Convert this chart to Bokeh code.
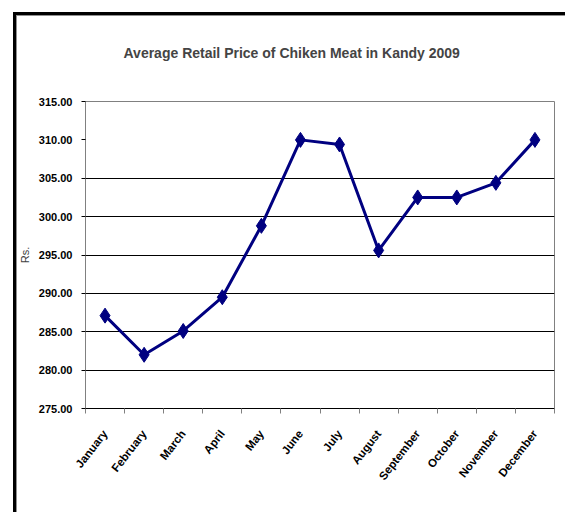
from bokeh.plotting import figure
from bokeh.models import Range1d, FixedTicker, Title, LinearAxis
from bokeh.embed import file_html
from bokeh.resources import INLINE

# Monthly average retail price (Rs.) of chicken meat in Kandy, 2009
months = ["January", "February", "March", "April", "May", "June",
          "July", "August", "September", "October", "November", "December"]
prices = [287.1, 282.0, 285.1, 289.5, 298.8, 310.0,
          309.4, 295.6, 302.5, 302.5, 304.4, 310.0]
y_ticks = [275, 280, 285, 290, 295, 300, 305, 310, 315]
title_text = "Average Retail Price of Chiken Meat in Kandy 2009"

xs = [i + 0.5 for i in range(len(months))]

p = figure(width=565, height=512, output_backend="svg", toolbar_location=None,
           x_range=Range1d(0, len(months)), y_range=Range1d(275, 315),
           min_border_left=85, min_border_right=11,
           min_border_top=101, min_border_bottom=104)
p.background_fill_color = "white"
p.border_fill_color = None
p.outline_line_color = "#808080"
p.outline_line_width = 1

# double frame along the left and top edges of the page
p.styles = {
    "background-color": "white",
    "box-shadow": "inset 13px 12px 0 0 white, inset 16px 15px 0 0 black, "
                  "inset 17px 16px 0 0 #909090",
}

# x axis: labels at category centres, tick marks at category boundaries
xa = p.below[0]
xa.ticker = FixedTicker(ticks=xs, minor_ticks=list(range(len(months) + 1)))
xa.major_label_overrides = {x: m for x, m in zip(xs, months)}
xa.major_tick_in = 0
xa.major_tick_out = 0
xa.minor_tick_in = 0
xa.minor_tick_out = 5
xa.minor_tick_line_color = "#808080"
xa.axis_line_color = "black"
xa.major_label_orientation = 0.91
xa.major_label_text_font = "Liberation Sans"
xa.major_label_text_font_size = "11.5px"
xa.major_label_text_font_style = "bold"
xa.major_label_text_color = "black"
xa.major_label_standoff = 18

# unlabelled, lineless top axis used only as a gap between plot area and title
gap = LinearAxis(ticker=FixedTicker(ticks=[xs[0]], minor_ticks=[]),
                 major_label_overrides={xs[0]: ""},
                 axis_line_color=None, major_tick_in=0, major_tick_out=36,
                 major_label_standoff=0, minor_tick_line_color=None,
                 major_tick_line_color=None)
p.add_layout(gap, "above")
p.add_layout(Title(text=title_text, text_font="Liberation Sans",
                   text_font_size="14px", text_font_style="bold",
                   align="left", offset=38, standoff=10), "above")

# y axis
ya = p.left[0]
ya.ticker = FixedTicker(ticks=y_ticks)
ya.major_label_overrides = {t: f"{t:.2f}" for t in y_ticks}
ya.major_tick_in = 0
ya.major_tick_out = 4
ya.minor_tick_line_color = None
ya.axis_line_color = "#808080"
ya.major_tick_line_color = "black"
ya.major_label_text_font = "Liberation Sans"
ya.major_label_text_font_size = "11px"
ya.major_label_text_font_style = "bold"
ya.major_label_text_color = "black"
ya.major_label_standoff = 9
ya.axis_label = "Rs."
ya.axis_label_text_font = "Liberation Sans"
ya.axis_label_text_font_size = "11px"
ya.axis_label_text_font_style = "normal"
ya.axis_label_text_color = "#404040"
ya.axis_label_standoff = 5

p.xgrid.grid_line_color = None
p.ygrid.ticker = FixedTicker(ticks=[280, 285, 290, 295, 300, 305])
p.ygrid.grid_line_color = "black"
p.ygrid.grid_line_width = 1

p.line(xs, prices, line_color="#000080", line_width=3)
p.scatter(xs, prices, marker="diamond", size=15, fill_color="#000080",
          line_color="#000080")

open("out.html", "w").write(file_html(p, INLINE))
